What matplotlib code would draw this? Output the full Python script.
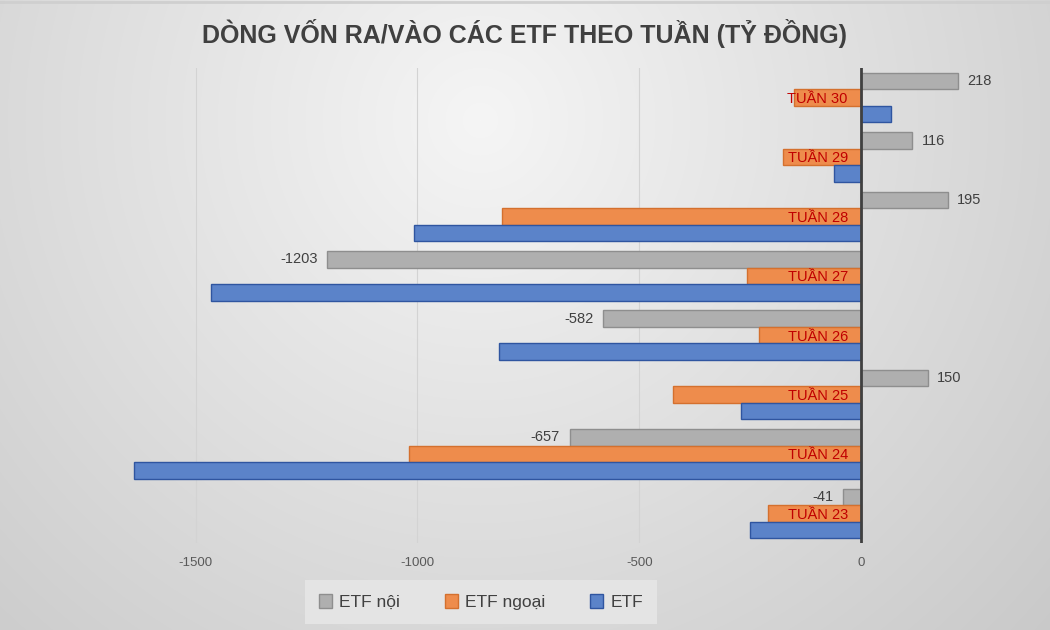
import matplotlib.pyplot as plt
import numpy as np

plt.rcParams['font.family'] = ['Liberation Sans', 'DejaVu Sans']
plt.rcParams['axes.unicode_minus'] = False

# du lieu dong von theo tuan
tuan = ["TUẦN 23", "TUẦN 24", "TUẦN 25", "TUẦN 26", "TUẦN 27", "TUẦN 28", "TUẦN 29", "TUẦN 30"]
etf_noi = [-41, -657, 150, -582, -1203, 195, 116, 218]
etf_ngoai = [-210, -1020, -423, -231, -256, -810, -177, -152]
etf = [-250, -1640, -271, -816, -1465, -1007, -61, 68]

fig = plt.figure(figsize=(10.5, 6.3), dpi=100)

# nen gradient tron, sang o giua phia tren
bg = fig.add_axes([0, 0, 1, 1], zorder=0)
px, py = np.meshgrid(np.arange(1050), np.arange(630))
d = np.sqrt((px - 480) ** 2 + (py - 120) ** 2)
val = (245 - 40 * d / 700) / 255
img = np.dstack([val, val, val])
img = np.clip(img, 0, 1)
bg.imshow(img, aspect="auto", extent=[0, 1050, 630, 0])
bg.plot([0, 1050], [2, 2], color="#CFCFCF", lw=2)
bg.set_xlim(0, 1050)
bg.set_ylim(630, 0)
bg.axis("off")

ax = fig.add_axes([0, 0.138, 1, 0.754], zorder=1)
ax.patch.set_alpha(0)

y = np.arange(len(tuan))
h = 0.278
ax.barh(y + h, etf_noi, height=h, color="#AFAFAF", edgecolor="#8E8E8E", linewidth=1, label="ETF nội", zorder=3)
ax.barh(y, etf_ngoai, height=h, color="#EE8C4C", edgecolor="#D4702E", linewidth=1, label="ETF ngoại", zorder=3)
ax.barh(y - h, etf, height=h, color="#5B83C9", edgecolor="#2F55A0", linewidth=1, label="ETF", zorder=3)

ax.set_xlim(-1941, 426)
ax.set_ylim(-0.5, 7.5)
ax.set_xticks([-1500, -1000, -500, 0])
ax.set_yticks([])
ax.tick_params(axis="x", length=0, labelsize=9.5, colors="#595959", pad=10)
for s in ax.spines.values():
    s.set_visible(False)
ax.grid(axis="x", color="#D3D3D3", linewidth=0.8, zorder=1)
ax.axvline(0, color="#404040", linewidth=2, zorder=4)

# nhan so lieu cho ETF noi
for i, v in enumerate(etf_noi):
    if v >= 0:
        ax.annotate(str(v), xy=(v, i + h), xytext=(7, 0), textcoords="offset points",
                    ha="left", va="center", fontsize=10.5, color="#404040")
    else:
        ax.annotate(str(v), xy=(v, i + h), xytext=(-7, 0), textcoords="offset points",
                    ha="right", va="center", fontsize=10.5, color="#404040")

# ten tuan canh truc
for i, t in enumerate(tuan):
    ax.annotate(t, xy=(0, i), xytext=(-9.5, -1), textcoords="offset points",
                ha="right", va="center", fontsize=10.5, color="#C00000", zorder=5)

fig.text(0.5, 0.947, "DÒNG VỐN RA/VÀO CÁC ETF THEO TUẦN (TỶ ĐỒNG)", ha="center", va="center",
         fontsize=18, fontweight="bold", color="#404040")

leg = fig.legend(loc="center", bbox_to_anchor=(481 / 1050, 1 - 602 / 630), ncol=3,
                 fontsize=12.5, frameon=True, handlelength=0.75, handleheight=0.9,
                 columnspacing=2.6, handletextpad=0.4)
leg.get_frame().set_facecolor("#E4E4E4")
leg.get_frame().set_edgecolor("none")
leg.get_frame().set_alpha(1)
leg.get_frame().set_boxstyle("square", pad=0.4)
for t in leg.get_texts():
    t.set_color("#404040")

plt.savefig("out.png", dpi=100)
